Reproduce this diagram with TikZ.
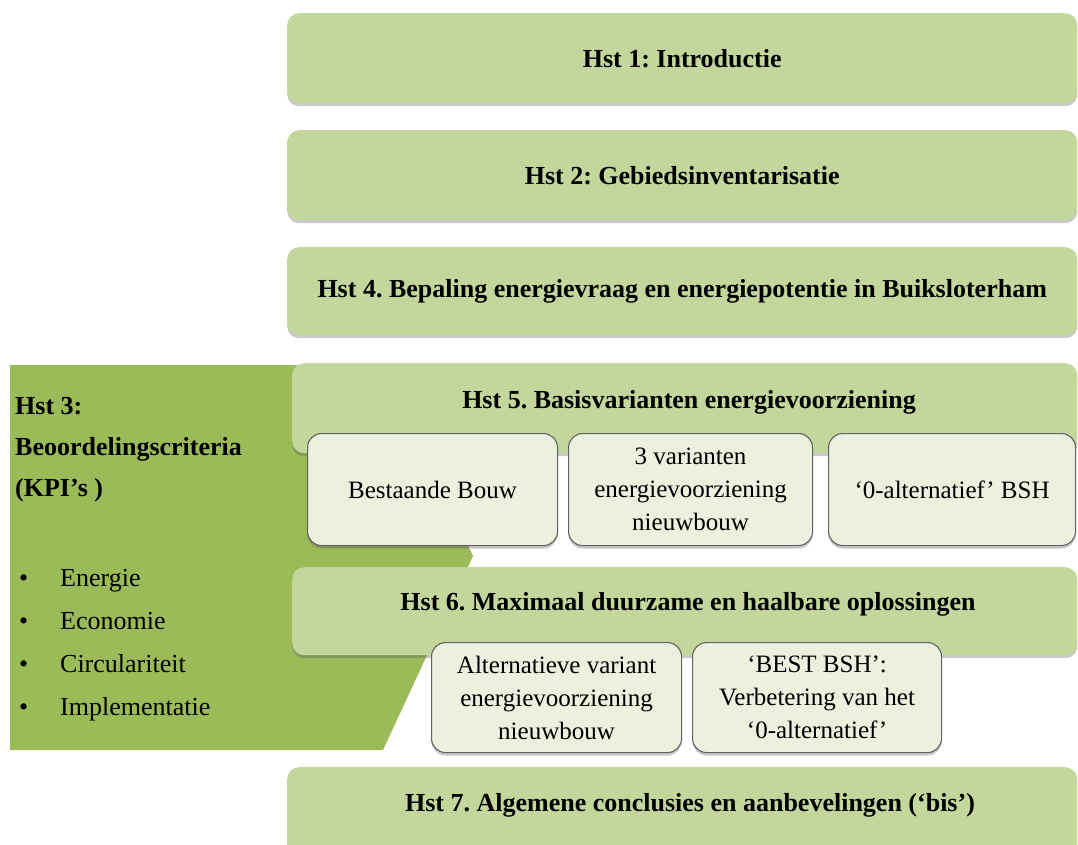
\documentclass[tikz,border=0pt]{standalone}
\usepackage{fontspec}
\setmainfont{Liberation Serif}
\frenchspacing
\usetikzlibrary{shadows}
\definecolor{chapfill}{HTML}{C3D69B}
\definecolor{critfill}{HTML}{9BBB59}
\definecolor{subfill}{HTML}{EBF1DE}
\definecolor{subline}{HTML}{626262}
\begin{document}
\begin{tikzpicture}[x=1pt,y=-1pt,
  shade/.style={drop shadow={shadow xshift=0pt, shadow yshift=-3pt, opacity=0.3, fill=black!70}},
  chapter/.style={fill=chapfill, rounded corners=12pt, anchor=north west, inner sep=0pt,
    minimum width=790pt, minimum height=90pt, shade,
    font=\fontsize{26}{30}\selectfont\bfseries},
  chaptitle/.style={inner sep=0pt, font=\fontsize{26}{30}\selectfont\bfseries},
  subbox/.style={draw=subline, line width=1.1pt, fill=subfill, rounded corners=14pt,
    anchor=north west, inner sep=0pt, align=center, shade,
    font=\fontsize{25}{33}\selectfont},
  crittext/.style={inner sep=0pt, anchor=west, align=left}
]
\useasboundingbox (0,0) rectangle (1078,844);
\clip (0,0) rectangle (1078,844);

% chapter bars above the criteria block
\node[chapter] (h1) at (287,13) {Hst 1: Introductie};
\node[chapter] (h2) at (287,130) {Hst 2: Gebiedsinventarisatie};
\node[chapter, minimum height=88pt] (h4) at (287,247)
  {Hst 4. Bepaling energievraag en energiepotentie in Buiksloterham};

% criteria block (chapter 3) behind chapters 5 and 6
\fill[critfill] (10,365) -- (384,365) -- (473,556) -- (383,750) -- (10,750) -- cycle;
\node[crittext, font=\fontsize{26}{41}\selectfont\bfseries] (h3) at (15,450)
  {Hst 3:\\Beoordelingscriteria\\(KPI’s )};
\node[crittext, font=\fontsize{26}{43}\selectfont] (kpi) at (19,645)
  {\makebox[41pt][l]{\textbullet}Energie\\
   \makebox[41pt][l]{\textbullet}Economie\\
   \makebox[41pt][l]{\textbullet}Circulariteit\\
   \makebox[41pt][l]{\textbullet}Implementatie};

% chapter 5 with its three base variants
\node[chapter, minimum width=785pt] (h5) at (292,363) {};
\node[chaptitle] (h5t) at (689,402) {Hst 5. Basisvarianten energievoorziening};
\node[subbox, minimum width=250pt, minimum height=112pt] (bb) at (307,433) {Bestaande Bouw};
\node[subbox, minimum width=244pt, minimum height=112pt] (vn) at (568,433)
  {3 varianten\\energievoorziening\\nieuwbouw};
\node[subbox, minimum width=247pt, minimum height=112pt] (na) at (828,433) {‘0-alternatief’ BSH};

% chapter 6 with its two improved solutions
\node[chapter, minimum width=785pt, minimum height=88pt] (h6) at (292,567) {};
\node[chaptitle] (h6t) at (688,604) {Hst 6. Maximaal duurzame en haalbare oplossingen};
\node[subbox, minimum width=250pt, minimum height=110pt] (av) at (431,642)
  {Alternatieve variant\\energievoorziening\\nieuwbouw};
\node[subbox, minimum width=249pt, minimum height=110pt] (bs) at (692,642)
  {‘BEST BSH’:\\Verbetering van het\\‘0-alternatief’};

% closing chapter
\node[chapter] (h7) at (287,767) {};
\node[chaptitle] (h7t) at (690,805) {Hst 7. Algemene conclusies en aanbevelingen (‘bis’)};
\end{tikzpicture}
\end{document}
